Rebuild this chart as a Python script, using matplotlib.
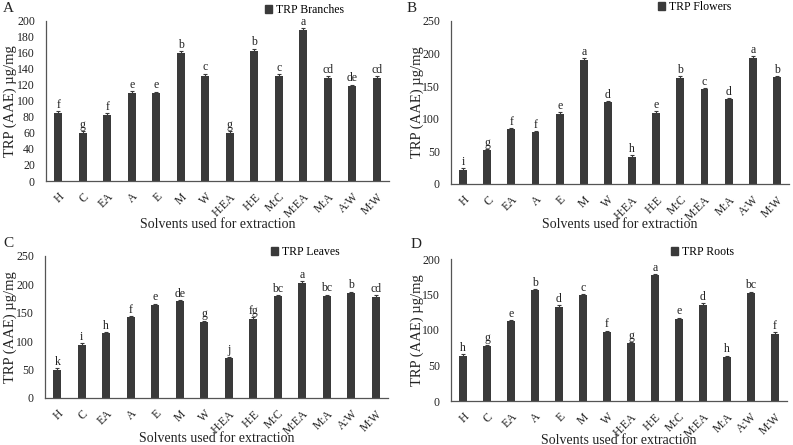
import matplotlib
matplotlib.use("Agg")
import matplotlib.pyplot as plt
from matplotlib.patches import Patch

plt.rcParams['font.family'] = ['Liberation Serif', 'DejaVu Serif']

solvents = ["H", "C", "EA", "A", "E", "M", "W", "H:EA", "H:E", "M:C", "M:EA", "M:A", "A:W", "M:W"]

branches = [85, 59.5, 82, 110, 110, 160, 131, 60, 162, 131, 188, 129, 118, 128]
branches_err = [2.5, 2.5, 2.5, 2, 1.5, 2, 3, 2, 3, 2, 2.5, 1.5, 2, 3]
branches_grp = ["f", "g", "f", "e", "e", "b", "c", "g", "b", "c", "a", "cd", "de", "cd"]

flowers = [21, 52, 84, 79, 107, 190, 125, 41, 109, 162, 145, 130, 193, 164]
flowers_err = [3, 1.5, 1, 2, 2.5, 2.5, 2, 3, 2, 3, 1.5, 1, 3, 1]
flowers_grp = ["i", "g", "f", "f", "e", "a", "d", "h", "e", "b", "c", "d", "a", "b"]

leaves = [50, 94, 114, 143, 164, 170, 134, 71, 139, 180, 203, 180, 185, 178]
leaves_err = [2, 2, 1.5, 1.5, 2, 2, 2, 2, 3, 1.5, 3, 2, 2, 2.5]
leaves_grp = ["k", "i", "h", "f", "e", "de", "g", "j", "fg", "bc", "a", "bc", "b", "cd"]

roots = [64, 77, 112, 157, 133, 149, 97, 81, 177, 116, 135, 62, 152, 95]
roots_err = [1.5, 2.5, 1.5, 1, 2, 1.5, 2, 1.5, 1.5, 1.5, 3, 2, 2, 1.5]
roots_grp = ["h", "g", "e", "b", "d", "c", "f", "g", "a", "e", "d", "h", "bc", "f"]

W, H = 793, 445
fig = plt.figure(figsize=(W / 100, H / 100), dpi=100)

bar_color = "#3a3a3a"
txt_color = "#222222"

def px_axes(l, r, t, b):
    return fig.add_axes([l / W, 1 - b / H, (r - l) / W, (b - t) / H])

panels = [
    dict(box=(46, 389, 20.7, 181), vals=branches, err=branches_err, grp=branches_grp,
         ymax=200, step=20, leg="TRP Branches", leg_px=(265, 10), letter="A", lxy=(3, 9),
         xl_y=224, yl_x=10),
    dict(box=(451, 789, 20.7, 184), vals=flowers, err=flowers_err, grp=flowers_grp,
         ymax=250, step=50, leg="TRP Flowers", leg_px=(658, 7), letter="B", lxy=(407, 9),
         xl_y=225, yl_x=417),
    dict(box=(45, 388, 256, 398), vals=leaves, err=leaves_err, grp=leaves_grp,
         ymax=250, step=50, leg="TRP Leaves", leg_px=(271, 252), letter="C", lxy=(3, 243),
         xl_y=438, yl_x=10),
    dict(box=(451, 787, 259, 401), vals=roots, err=roots_err, grp=roots_grp,
         ymax=200, step=50, leg="TRP Roots", leg_px=(671, 252), letter="D", lxy=(411, 244),
         xl_y=440, yl_x=417),
]

for p in panels:
    l, r, t, b = p["box"]
    ax = px_axes(l, r, t, b)
    x = list(range(len(solvents)))
    ax.bar(x, p["vals"], width=0.33, color=bar_color, zorder=2,
           yerr=p["err"], error_kw=dict(ecolor=bar_color, elinewidth=0.8, capsize=1.5, capthick=0.8))
    ax.set_xlim(-0.5, len(solvents) - 0.5)
    ax.set_ylim(0, p["ymax"])
    ax.set_yticks(range(0, p["ymax"] + 1, p["step"]))
    ax.set_xticks(x)
    ax.set_xticklabels(solvents, rotation=45, ha="right", rotation_mode="anchor", fontsize=8.5)
    ax.tick_params(axis="both", length=0, labelsize=8.5, colors=txt_color)
    ax.tick_params(axis="y", pad=8)
    ax.tick_params(axis="x", pad=7)
    for s in ("top", "right"):
        ax.spines[s].set_visible(False)
    for s in ("left", "bottom"):
        ax.spines[s].set_color("#555555")
        ax.spines[s].set_linewidth(0.9)
    for xi, v, e, g in zip(x, p["vals"], p["err"], p["grp"]):
        ax.text(xi, v + e + p["ymax"] * 0.002, g, ha="center", va="bottom", fontsize=8.5, color=txt_color)
    lx, ly = p["leg_px"]
    fig.legend(handles=[Patch(color=bar_color, label=p["leg"])], loc="center left",
               bbox_to_anchor=(lx / W, 1 - ly / H), frameon=False, fontsize=8.5,
               handlelength=0.6, handleheight=0.6, handletextpad=0.3, borderpad=0,
               borderaxespad=0)
    fig.text((l + r) / 2 / W, 1 - p["xl_y"] / H, "Solvents used for extraction",
             ha="center", va="center", fontsize=10, color=txt_color)
    fig.text(p["yl_x"] / W, 1 - (t + b) / 2 / H, "TRP (AAE) µg/mg", rotation=90,
             ha="center", va="center", fontsize=10.5, color=txt_color)
    fig.text(p["lxy"][0] / W, 1 - p["lxy"][1] / H, p["letter"], ha="left", va="center",
             fontsize=11, color=txt_color)

fig.savefig("out.png", dpi=100)
